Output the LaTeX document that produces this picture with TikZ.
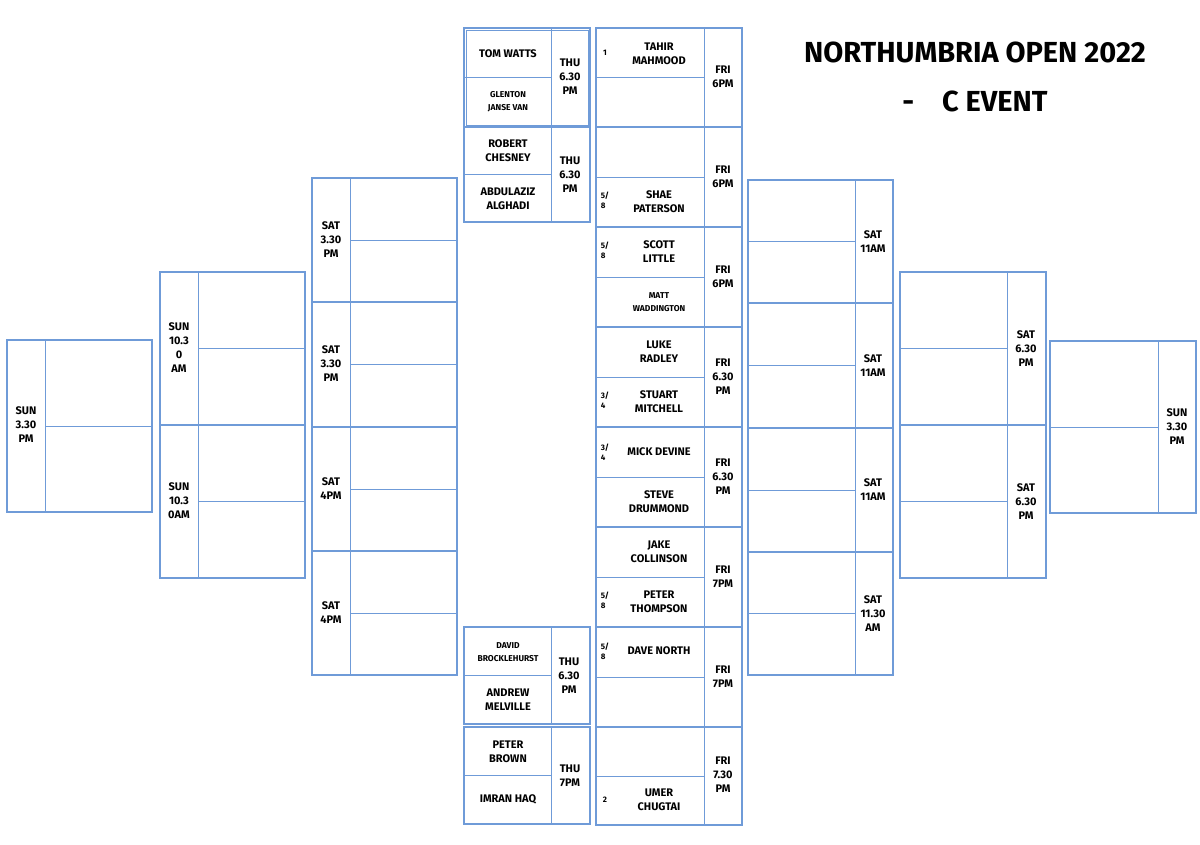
\documentclass[tikz,border=0pt]{standalone}
\usepackage{fontspec}
\setmainfont{Fira Sans}
\begin{document}
\begin{tikzpicture}[x=1pt,y=-1pt]
\definecolor{bb}{HTML}{6F9BD8}
\tikzset{
 mbox/.style={draw=bb,line width=2.2pt},
 iline/.style={draw=bb,line width=1pt},
 t/.style={font=\fontsize{11}{14}\selectfont\bfseries,align=center,inner sep=0pt},
 s/.style={font=\fontsize{8.5}{13}\selectfont\bfseries,align=center,inner sep=0pt},
 sd/.style={font=\fontsize{8}{10}\selectfont\bfseries,align=left,inner sep=0pt}
}
\path[fill=white] (0,0) rectangle (1200,844);
% generic match box: x1,x2,divider,y1,y2, line from x1 or divider
\newcommand{\mboxL}[5]{\draw[mbox] (#1,#4) rectangle (#2,#5); \draw[iline] (#3,#4) -- (#3,#5); \draw[iline] (#3,{(#4+#5)/2}) -- (#2,{(#4+#5)/2});}
\newcommand{\mboxR}[5]{\draw[mbox] (#1,#4) rectangle (#2,#5); \draw[iline] (#3,#4) -- (#3,#5); \draw[iline] (#1,{(#4+#5)/2}) -- (#3,{(#4+#5)/2});}
% Fri column
\foreach \a/\b in {28/127,127/227,227/327,327/427,427/527,527/627,627/727,727/825}{\mboxR{596}{742}{704}{\a}{\b}}
% Thu column
\foreach \a/\b in {28/127,127/222,627/724,727/824}{\mboxR{464}{590}{551}{\a}{\b}}
\draw[bb,line width=1pt] (466,30) rectangle (588,125);
% Left
\foreach \a/\b in {178/302,302/427,427/551,551/675}{\mboxL{312}{457}{350}{\a}{\b}}
\foreach \a/\b in {272/425,425/578}{\mboxL{160}{305}{198}{\a}{\b}}
\mboxL{7}{152}{45}{340}{512}
% Right
\foreach \a/\b in {180/303,303/428,428/552,552/675}{\mboxR{748}{893}{855}{\a}{\b}}
\foreach \a/\b in {272/425,425/578}{\mboxR{900}{1046}{1007}{\a}{\b}}
\mboxR{1050}{1196}{1158}{341}{513}
% Title
\node[font=\fontsize{29}{34}\selectfont\bfseries] (title) at (975,52) {NORTHUMBRIA OPEN 2022};
\node[font=\fontsize{29}{34}\selectfont\bfseries] (title2) at (975,101) {-\hspace{28pt}C EVENT};
% Fri texts
\node[sd] (f1s) at (605,53) {1};
\node[t] (f1a) at (659,54) {TAHIR\\MAHMOOD};
\node[t] (f1d) at (723,77) {FRI\\6PM};
\node[sd] (f2s) at (605,200) {5/\\8};
\node[t] (f2b) at (659,202) {SHAE\\PATERSON};
\node[t] (f2d) at (723,177) {FRI\\6PM};
\node[sd] (f3s) at (605,250) {5/\\8};
\node[t] (f3a) at (659,252) {SCOTT\\LITTLE};
\node[s] (f3b) at (659,302) {MATT\\WADDINGTON};
\node[t] (f3d) at (723,277) {FRI\\6PM};
\node[t] (f4a) at (659,352) {LUKE\\RADLEY};
\node[sd] (f4s) at (605,400) {3/\\4};
\node[t] (f4b) at (659,402) {STUART\\MITCHELL};
\node[t] (f4d) at (723,377) {FRI\\6.30\\PM};
\node[sd] (f5s) at (605,452) {3/\\4};
\node[t] (f5a) at (659,452) {MICK DEVINE};
\node[t] (f5b) at (659,502) {STEVE\\DRUMMOND};
\node[t] (f5d) at (723,477) {FRI\\6.30\\PM};
\node[t] (f6a) at (659,552) {JAKE\\COLLINSON};
\node[sd] (f6s) at (605,600) {5/\\8};
\node[t] (f6b) at (659,602) {PETER\\THOMPSON};
\node[t] (f6d) at (723,577) {FRI\\7PM};
\node[sd] (f7s) at (605,651) {5/\\8};
\node[t] (f7a) at (659,651) {DAVE NORTH};
\node[t] (f7d) at (723,677) {FRI\\7PM};
\node[sd] (f8s) at (605,800) {2};
\node[t] (f8b) at (659,800) {UMER\\CHUGTAI};
\node[t] (f8d) at (723,775) {FRI\\7.30\\PM};
% Thu texts
\node[t] (t1a) at (508,54) {TOM WATTS};
\node[s] (t1b) at (508,102) {GLENTON\\JANSE VAN};
\node[t] (t1d) at (570,77) {THU\\6.30\\PM};
\node[t] (t2a) at (508,151) {ROBERT\\CHESNEY};
\node[t] (t2b) at (508,199) {ABDULAZIZ\\ALGHADI};
\node[t] (t2d) at (570,175) {THU\\6.30\\PM};
\node[s] (t3a) at (508,652) {DAVID\\BROCKLEHURST};
\node[t] (t3b) at (508,700) {ANDREW\\MELVILLE};
\node[t] (t3d) at (569,676) {THU\\6.30\\PM};
\node[t] (t4a) at (508,752) {PETER\\BROWN};
\node[t] (t4b) at (508,799) {IMRAN HAQ};
\node[t] (t4d) at (570,776) {THU\\7PM};
% Left labels
\node[t] (l1) at (331,240) {SAT\\3.30\\PM};
\node[t] (l2) at (331,364) {SAT\\3.30\\PM};
\node[t] (l3) at (331,489) {SAT\\4PM};
\node[t] (l4) at (331,613) {SAT\\4PM};
\node[t] (l5) at (179,348) {SUN\\10.3\\0\\AM};
\node[t] (l6) at (179,501) {SUN\\10.3\\0AM};
\node[t] (l7) at (26,425) {SUN\\3.30\\PM};
% Right labels
\node[t] (r1) at (873,242) {SAT\\11AM};
\node[t] (r2) at (873,366) {SAT\\11AM};
\node[t] (r3) at (873,490) {SAT\\11AM};
\node[t] (r4) at (873,614) {SAT\\11.30\\AM};
\node[t] (r5) at (1026,349) {SAT\\6.30\\PM};
\node[t] (r6) at (1026,502) {SAT\\6.30\\PM};
\node[t] (r7) at (1177,427) {SUN\\3.30\\PM};
\useasboundingbox (0,0) rectangle (1200,844);
\end{tikzpicture}
\end{document}
